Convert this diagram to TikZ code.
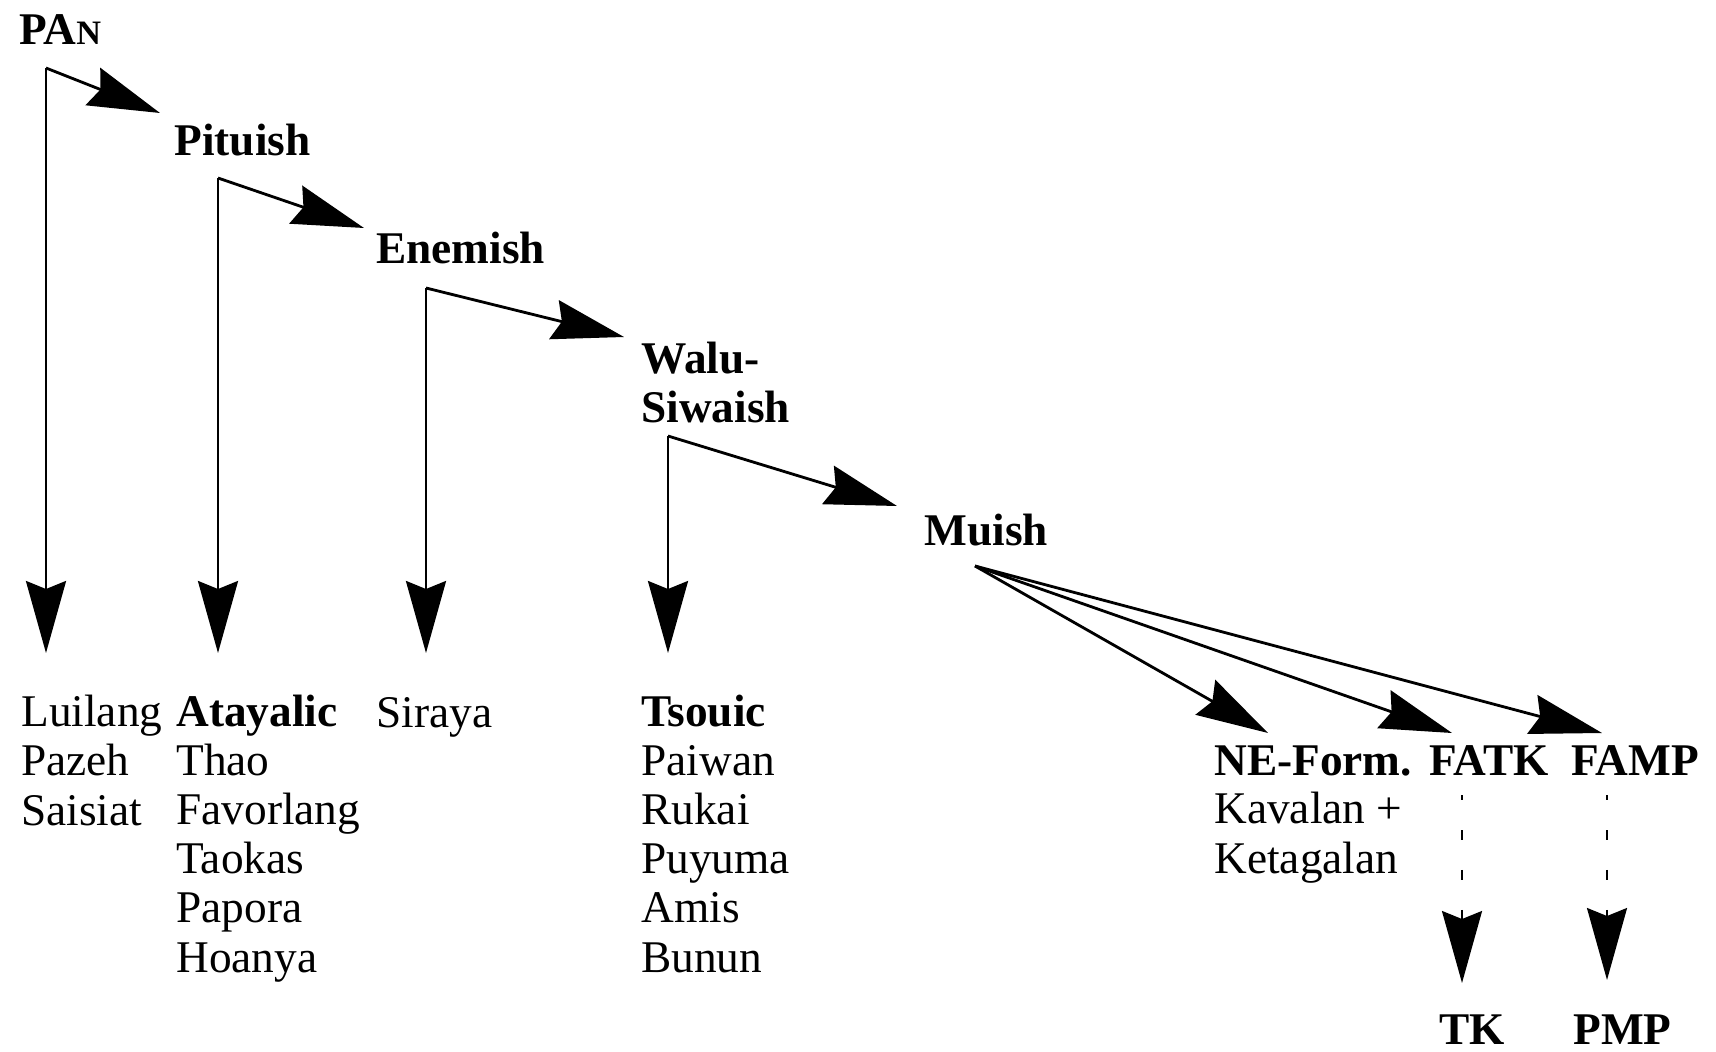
\documentclass[tikz,border=0pt]{standalone}
\usepackage{fontspec}
\setmainfont{Liberation Serif}
\usetikzlibrary{arrows.meta}
\newcommand\labfont{\fontsize{25.8}{27.9}\selectfont}
\newcommand\smcap{\fontsize{19.5}{20}\selectfont}
\tikzset{ lab/.style = { anchor = base west % group label
        , inner sep = 0pt
        , font = \bfseries\labfont
        }
        , leaf/.style = { anchor = base west % language list, placed at its last line
        , inner sep = 0pt
        , align = left
        , font = \labfont
        }
        }
\begin{document}
\begin{tikzpicture}[x=0.02cm, y=-0.02cm, line width=1.6pt,
        edge_style/.style={draw=black, -{Stealth[length=1.44cm, width=0.8cm, inset=0.16cm]}},
        dash_style/.style={edge_style, line width=1.3pt, dash pattern=on 0.2cm off 0.6cm, dash phase=0.1cm}]
        \useasboundingbox (0,0) rectangle (1716,1051);

        % subgroups
        \node [lab](pan) at (18,45) {PA{\smcap N}};
        \node [lab](pit) at (173,155) {Pituish};
        \node [lab](ene) at (375,263) {Enemish};
        \node [lab](walu) at (640,373) {Walu-};
        \node [lab](siw) at (640,422) {Siwaish};
        \node [lab](mui) at (923,545) {Muish};
        \node [lab](nef) at (1213,775) {NE-Form.};
        \node [lab](fatk) at (1428,775) {FATK};
        \node [lab](famp) at (1570,775) {FAMP};
        \node [lab](tk) at (1438,1044) {TK};
        \node [lab](pmp) at (1572,1044) {PMP};

        % languages
        \node [leaf](l1) at (20,825) {Luilang\\Pazeh\\Saisiat};
        \node [leaf](l2) at (175,972) {\textbf{Atayalic}\\Thao\\Favorlang\\Taokas\\Papora\\Hoanya};
        \node [leaf](l3) at (375,727) {Siraya};
        \node [leaf](l4) at (640,972) {\textbf{Tsouic}\\Paiwan\\Rukai\\Puyuma\\Amis\\Bunun};
        \node [leaf](l5) at (1213,873) {Kavalan +\\Ketagalan};

        % corners and tips
        \coordinate (k1) at (46,68);    \coordinate (h1) at (160,113);
        \coordinate (k2) at (218,178);  \coordinate (h2) at (364,228);
        \coordinate (k3) at (426,288);  \coordinate (h3) at (624,337);
        \coordinate (k4) at (668,436);  \coordinate (h4) at (897,506);
        \coordinate (k5) at (975,566);
        \coordinate (h5) at (1268,733); \coordinate (h6) at (1452,733); \coordinate (h7) at (1602,733);
        \coordinate (d1) at (1462,795); \coordinate (e1) at (1462,983);
        \coordinate (d2) at (1607,795); \coordinate (e2) at (1607,980);

        \draw [edge_style] (k1) -- (h1);
        \draw [edge_style] (k2) -- (h2);
        \draw [edge_style] (k3) -- (h3);
        \draw [edge_style] (k4) -- (h4);
        \draw [edge_style] (k1) -- (k1 |- 0,653);
        \draw [edge_style] (k2) -- (k2 |- 0,653);
        \draw [edge_style] (k3) -- (k3 |- 0,653);
        \draw [edge_style] (k4) -- (k4 |- 0,653);
        \draw [edge_style] (k5) -- (h5);
        \draw [edge_style] (k5) -- (h6);
        \draw [edge_style] (k5) -- (h7);
        \draw [dash_style] (d1) -- (e1);
        \draw [dash_style] (d2) -- (e2);
\end{tikzpicture}
\end{document}
